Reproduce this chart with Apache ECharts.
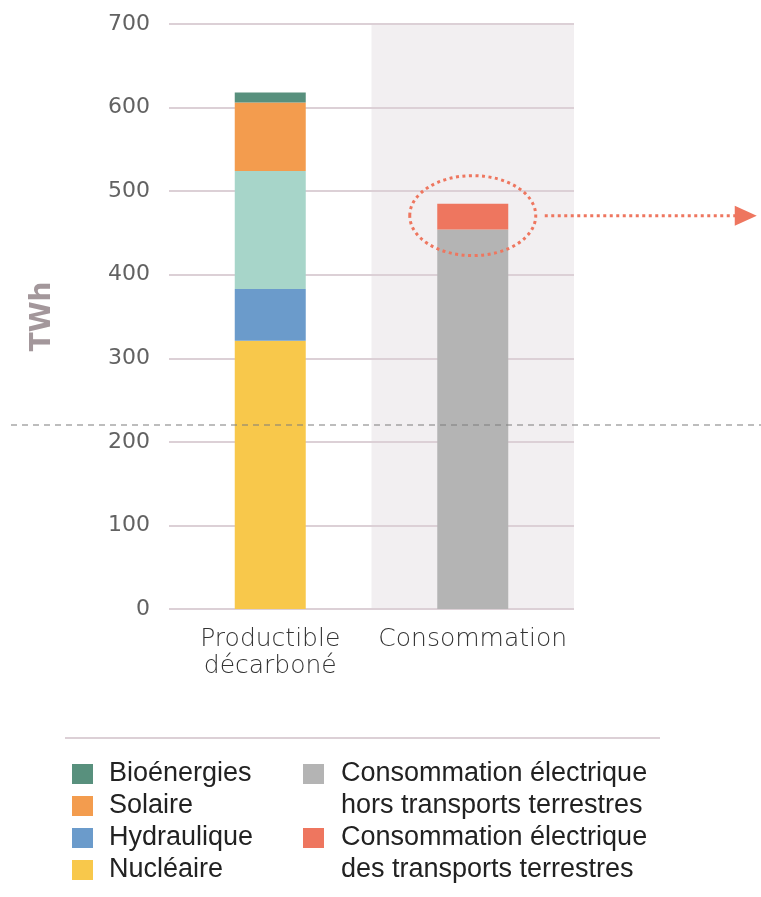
<!DOCTYPE html>
<html>
<head>
<meta charset="utf-8">
<script src="https://cdn.jsdelivr.net/npm/echarts@6/dist/echarts.min.js"></script>
<style>
  html, body { margin: 0; padding: 0; background: #ffffff; }
  #chart { width: 761px; height: 897px; }
</style>
</head>
<body>
<div id="chart"></div>
<script>
// Categories on the horizontal axis
const categories = ['Productible\ndécarboné', 'Consommation'];

// Decarbonised production (TWh), stacked bottom to top
const nucleaire   = [321, '-'];
const hydraulique = [62, '-'];
const eolien      = [141, '-'];
const solaire     = [82, '-'];
const bioenergies = [12, '-'];

// Electricity consumption (TWh)
const consoHorsTransports = ['-', 454];
const consoTransports     = ['-', 31];

// Vertical axis
const yMin = 0;
const yMax = 700;
const yStep = 100;

const colors = {
  nucleaire: '#f8c84b',
  hydraulique: '#6b9bcb',
  eolien: '#a7d5c9',
  solaire: '#f39c4e',
  bio: '#58907d',
  hors: '#b4b4b4',
  transports: '#ee765f'
};

const labelFont = 'DejaVu Sans';
const legendFont = 'Liberation Sans';
const gridColor = '#dcd0d6';

// Square aligned with the first line of a two-line legend label
const tallSquare = 'path://M0 0H21V20H0Z M0 52L0.01 52';

function bar(name, data, color) {
  return {
    name: name,
    type: 'bar',
    stack: 'total',
    barWidth: 71,
    data: data,
    itemStyle: { color: color },
    emphasis: { disabled: true },
    silent: true
  };
}

const chart = echarts.init(document.getElementById('chart'), null, { renderer: 'canvas' });

chart.setOption({
  animation: false,
  backgroundColor: '#ffffff',
  grid: { left: 169, right: 187, top: 24, bottom: 288, containLabel: false },
  xAxis: {
    type: 'category',
    z: 0,
    data: categories,
    axisLine: { show: false },
    axisTick: { show: false },
    axisLabel: {
      interval: 0,
      hideOverlap: false,
      margin: 17,
      fontFamily: labelFont,
      fontWeight: 200,
      fontSize: 25,
      lineHeight: 27,
      color: '#333333'
    },
    splitArea: {
      show: true,
      interval: 0,
      areaStyle: { color: ['rgba(255,255,255,0)', '#f2eff1'] }
    }
  },
  yAxis: {
    type: 'value',
    z: 1,
    min: yMin,
    max: yMax,
    interval: yStep,
    name: 'TWh',
    nameLocation: 'middle',
    nameRotate: 90,
    nameGap: 112,
    nameTextStyle: {
      fontFamily: labelFont,
      fontWeight: 'bold',
      fontSize: 28,
      color: '#a3979b'
    },
    axisLine: { show: false },
    axisTick: { show: false },
    axisLabel: {
      margin: 19,
      fontFamily: labelFont,
      fontSize: 22,
      color: '#626262'
    },
    splitLine: { lineStyle: { color: gridColor, width: 2 } }
  },
  legend: [
    {
      orient: 'vertical',
      left: 72,
      top: 758,
      padding: 0,
      itemGap: 0,
      itemWidth: 21,
      itemHeight: 20,
      icon: 'rect',
      selectedMode: false,
      data: ['Bioénergies', 'Solaire', 'Hydraulique', 'Nucléaire'],
      textStyle: {
        fontFamily: legendFont,
        fontSize: 27,
        lineHeight: 32,
        color: '#222222',
        padding: [0, 0, 0, 11]
      }
    },
    {
      orient: 'vertical',
      left: 303,
      top: 758,
      padding: 0,
      itemGap: 0,
      itemWidth: 21,
      itemHeight: 52,
      icon: tallSquare,
      selectedMode: false,
      data: [
        'Consommation électrique\nhors transports terrestres',
        'Consommation électrique\ndes transports terrestres'
      ],
      textStyle: {
        fontFamily: legendFont,
        fontSize: 27,
        lineHeight: 32,
        color: '#222222',
        padding: [0, 0, 0, 12]
      }
    }
  ],
  series: [
    bar('Nucléaire', nucleaire, colors.nucleaire),
    bar('Hydraulique', hydraulique, colors.hydraulique),
    bar('Éolien', eolien, colors.eolien),
    bar('Solaire', solaire, colors.solaire),
    bar('Bioénergies', bioenergies, colors.bio),
    bar('Consommation électrique\nhors transports terrestres', consoHorsTransports, colors.hors),
    bar('Consommation électrique\ndes transports terrestres', consoTransports, colors.transports)
  ]
});

// Dotted highlight around the transport share, with an arrow pointing right
const mid = consoHorsTransports[1] + consoTransports[1] / 2;
const p = chart.convertToPixel({ gridIndex: 0 }, [1, mid]);
const cx = p[0], cy = p[1] - 1;
const dotted = { stroke: colors.transports, lineWidth: 3, lineDash: [3, 3.5], fill: 'transparent' };

chart.setOption({
  graphic: [
    {
      type: 'line',
      z: 50,
      silent: true,
      shape: { x1: 11, y1: 425, x2: 761, y2: 425 },
      style: { stroke: '#7d7d7d', lineWidth: 1.2, lineDash: [6, 5] }
    },
    {
      type: 'ellipse',
      z: 60,
      silent: true,
      shape: { cx: cx, cy: cy, rx: 63, ry: 40 },
      style: dotted
    },
    {
      type: 'line',
      z: 60,
      silent: true,
      shape: { x1: cx + 72, y1: cy, x2: cx + 264, y2: cy },
      style: dotted
    },
    {
      type: 'polygon',
      z: 60,
      silent: true,
      shape: { points: [[cx + 262, cy - 10], [cx + 284, cy], [cx + 262, cy + 10]] },
      style: { fill: colors.transports }
    },
    {
      type: 'line',
      z: 10,
      silent: true,
      shape: { x1: 65, y1: 738, x2: 660, y2: 738 },
      style: { stroke: gridColor, lineWidth: 2 }
    }
  ]
});
</script>
</body>
</html>
